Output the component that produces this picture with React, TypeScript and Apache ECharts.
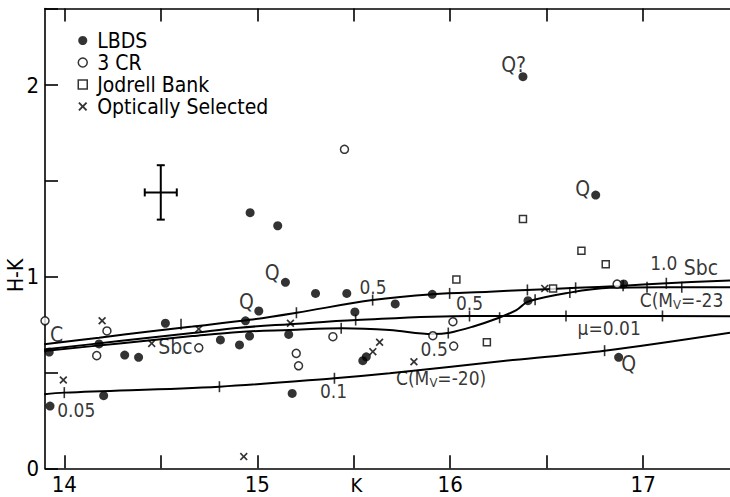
import React, { useEffect, useRef } from "react";
import * as echarts from "echarts";

// ---------- axis ticks ----------
const xTickValues = [14, 14.5, 15, 15.5, 16, 16.5, 17];
const xLabelValues = [14, 15, 16, 17];

// ---------- data points [K, H-K] ----------
const lbds: [number, number][] = [
  [13.922, 0.607], [13.926, 0.325], [14.204, 0.379], [14.18, 0.649], [14.313, 0.591],
  [14.385, 0.579], [14.524, 0.757], [14.809, 0.67], [14.908, 0.644], [14.939, 0.77],
  [14.96, 0.69], [14.963, 1.334], [15.106, 1.266], [15.146, 0.971], [15.008, 0.821],
  [15.163, 0.699], [15.181, 0.391], [15.302, 0.913], [15.464, 0.913], [15.506, 0.816],
  [15.547, 0.562], [15.565, 0.582], [15.715, 0.858], [15.907, 0.908], [16.377, 2.044],
  [16.403, 0.875], [16.754, 1.426], [16.873, 0.579], [16.899, 0.962],
];
const threeCR: [number, number][] = [
  [13.9, 0.77], [14.168, 0.588], [14.221, 0.717], [14.697, 0.629], [15.202, 0.6],
  [15.214, 0.535], [15.392, 0.687], [15.452, 1.665], [15.91, 0.692], [16.014, 0.765],
  [16.018, 0.638], [16.865, 0.962],
];
const jodrellBank: [number, number][] = [
  [16.032, 0.986], [16.19, 0.658], [16.377, 1.301], [16.533, 0.939], [16.68, 1.136], [16.806, 1.065],
];
const opticallySelected: [number, number][] = [
  [14.196, 0.77], [13.995, 0.461], [14.453, 0.652], [14.697, 0.727], [15.172, 0.757],
  [15.599, 0.609], [15.634, 0.658], [15.812, 0.556], [16.49, 0.939], [14.93, 0.061],
];

// ---------- model curves [K, H-K] ----------
const sbcCurve: [number, number][] = [
  [13.896, 0.647], [14.18, 0.682], [14.44, 0.714], [14.664, 0.74], [14.96, 0.775],
  [15.203, 0.812], [15.598, 0.878], [15.909, 0.909], [16.204, 0.922], [16.396, 0.931],
  [16.656, 0.942], [16.878, 0.952], [17.122, 0.966], [17.45, 0.98],
];
const mu001Curve: [number, number][] = [
  [13.896, 0.62], [14.285, 0.664], [14.664, 0.706], [14.908, 0.734], [15.167, 0.752],
  [15.515, 0.774], [16.1, 0.795], [16.775, 0.795], [17.45, 0.793],
];
const cMv23Curve: [number, number][] = [
  [13.896, 0.612], [14.285, 0.652], [14.664, 0.69], [14.908, 0.712], [15.167, 0.722],
  [15.442, 0.731], [15.686, 0.722], [15.909, 0.701], [15.997, 0.708], [16.116, 0.739],
  [16.246, 0.783], [16.343, 0.826], [16.403, 0.87], [16.619, 0.917], [16.827, 0.942],
  [17.1, 0.945], [17.45, 0.945],
];
const cMv20Curve: [number, number][] = [
  [13.896, 0.386], [14.0, 0.395], [14.804, 0.426], [15.4, 0.47], [15.686, 0.496],
  [16.324, 0.565], [16.8, 0.614], [17.45, 0.708],
];

// ---------- redshift tick marks on curves ----------
const sbcTicks: [number, number][] = [
  [14.605, 0.752], [15.203, 0.812], [15.598, 0.878], [15.997, 0.913], [16.4, 0.931],
  [16.65, 0.942], [16.896, 0.953], [17.12, 0.966],
];
const mu001Ticks: [number, number][] = [[15.51, 0.774], [16.1, 0.795], [16.6, 0.795], [17.1, 0.795]];
const cMv23Ticks: [number, number][] = [
  [15.435, 0.731], [15.99, 0.706], [16.256, 0.786], [16.44, 0.88], [16.62, 0.917], [17.02, 0.945], [17.2, 0.945],
];
const cMv20Ticks: [number, number][] = [[14.0, 0.395], [14.804, 0.426], [15.4, 0.47], [16.8, 0.614]];

// ---------- typical error bar [K, H-K, dK, dH-K] ----------
const errorBar: [number, number, number, number][] = [[14.5, 1.44, 0.083, 0.142]];

// ---------- annotations ----------
const annotationTexts = [
  "C", "Sbc", "0.05", "Q", "Q", "0.5", "0.5", "0.5", "0.1",
  "{a|C(M}{s|V}{a|=-20)}", "μ=0.01", "Q", "{a|C(M}{s|V}{a|=-23}", "1.0", "Sbc", "Q?", "Q",
];
const annotationK = [
  13.96, 14.576, 14.062, 14.944, 15.077, 15.6, 16.1, 15.917, 15.395,
  15.953, 16.824, 16.925, 16.982, 17.107, 17.299, 16.329, 16.687,
];
const annotationHK = [
  0.695, 0.633, 0.304, 0.868, 1.018, 0.948, 0.863, 0.625, 0.401,
  0.471, 0.73, 0.542, 0.879, 1.069, 1.043, 2.105, 1.46,
];
const annotationLeftAligned = [12];

const FONT = "'Liberation Sans Narrow', 'DejaVu Sans Condensed', 'Liberation Sans', Arial, sans-serif";
const CROSS =
  "path://M0,1.5 L1.5,0 L5,3.5 L8.5,0 L10,1.5 L6.5,5 L10,8.5 L8.5,10 L5,6.5 L1.5,10 L0,8.5 L3.5,5 Z";

function curveSeries(name: string, data: [number, number][]) {
  return {
    type: "line",
    id: name,
    data,
    smooth: 0.35,
    symbol: "none",
    silent: true,
    lineStyle: { color: "#000", width: 2 },
    z: 2,
  };
}
function tickSeries(name: string, data: [number, number][]) {
  return {
    type: "scatter",
    id: name,
    data,
    symbol: "rect",
    symbolSize: [1.6, 11],
    silent: true,
    itemStyle: { color: "#000" },
    z: 3,
  };
}

export default function App() {
  const ref = useRef<HTMLDivElement>(null);
  useEffect(() => {
    if (!ref.current) return;
    const chart = echarts.init(ref.current, undefined, { renderer: "svg" });
    const axisCommon = {
      type: "value",
      min: 13.9,
      max: 17.45,
      splitLine: { show: false },
      axisLine: { show: true, onZero: false, lineStyle: { color: "#000", width: 1.6 } },
      axisTick: { show: true, inside: true, length: 13, customValues: xTickValues, lineStyle: { color: "#000", width: 1.6 } },
    };
    const annData = annotationTexts.map((t, i) => {
      const left = annotationLeftAligned.includes(i);
      return {
        value: [annotationK[i], annotationHK[i]],
        label: {
          formatter: t,
          position: left ? "right" : "inside",
          distance: 0,
          fontSize: t.startsWith("Q") || t === "C" || t === "Sbc" ? 21 : 19,
        },
      };
    });
    chart.setOption({
      animation: false,
      backgroundColor: "#fff",
      textStyle: { fontFamily: FONT, color: "#000" },
      grid: { left: 45, right: 0, top: 8.5, bottom: 28.7, containLabel: false, outerBoundsMode: "none" },
      legend: {
        orient: "vertical",
        left: 77.5,
        top: 30,
        padding: 0,
        itemWidth: 9,
        itemHeight: 9,
        itemGap: 1,
        selectedMode: false,
        textStyle: { fontFamily: FONT, fontSize: 21, color: "#000", lineHeight: 21, padding: [0, 0, 0, 5] },
        data: [
          { name: "LBDS", icon: "circle", itemStyle: { color: "#000" } },
          { name: "3 CR", icon: "circle", itemStyle: { color: "#fff", borderColor: "#000", borderWidth: 1.5 } },
          { name: "Jodrell Bank", icon: "rect", itemStyle: { color: "#fff", borderColor: "#000", borderWidth: 1.5 } },
          { name: "Optically Selected", icon: CROSS, itemStyle: { color: "#000" } },
        ],
      },
      xAxis: [
        {
          ...axisCommon,
          position: "bottom",
          name: "K",
          nameLocation: "middle",
          nameGap: 7,
          nameMoveOverlap: false,
          nameTextStyle: { fontFamily: FONT, fontSize: 20, lineHeight: 20, color: "#000", padding: [0, 62, 0, 0] },
          axisLabel: { show: true, customValues: xLabelValues, margin: 5, fontFamily: FONT, fontSize: 22, color: "#000" },
        },
        {
          ...axisCommon,
          position: "top",
          axisLabel: { show: false },
        },
      ],
      yAxis: {
        type: "value",
        min: 0,
        max: 2.4,
        interval: 0.5,
        name: "H-K",
        nameLocation: "middle",
        nameRotate: 90,
        nameGap: 19,
        nameMoveOverlap: false,
        nameTextStyle: { fontFamily: FONT, fontSize: 21, color: "#000", padding: [0, 74, 0, 0] },
        splitLine: { show: false },
        axisLine: { show: true, lineStyle: { color: "#000", width: 1.6 } },
        axisTick: { show: true, inside: true, length: 13, lineStyle: { color: "#000", width: 1.6 } },
        axisLabel: {
          margin: 6,
          fontFamily: FONT,
          fontSize: 22,
          color: "#000",
          formatter: (v: number) => (Number.isInteger(v) ? String(v) : ""),
        },
      },
      series: [
        curveSeries("sbc", sbcCurve),
        curveSeries("mu001", mu001Curve),
        curveSeries("cmv23", cMv23Curve),
        curveSeries("cmv20", cMv20Curve),
        tickSeries("sbcTicks", sbcTicks),
        tickSeries("muTicks", mu001Ticks),
        tickSeries("c23Ticks", cMv23Ticks),
        tickSeries("c20Ticks", cMv20Ticks),
        {
          type: "custom",
          id: "errorbar",
          silent: true,
          data: errorBar,
          renderItem: (_p: any, api: any) => {
            const k = api.value(0), hk = api.value(1), dk = api.value(2), dhk = api.value(3);
            const l = api.coord([k - dk, hk]);
            const r = api.coord([k + dk, hk]);
            const t = api.coord([k, hk + dhk]);
            const b = api.coord([k, hk - dhk]);
            const cap = 4;
            const st = { stroke: "#000", lineWidth: 2 };
            return {
              type: "group",
              children: [
                { type: "line", shape: { x1: l[0], y1: l[1], x2: r[0], y2: r[1] }, style: st },
                { type: "line", shape: { x1: t[0], y1: t[1], x2: b[0], y2: b[1] }, style: st },
                { type: "line", shape: { x1: l[0], y1: l[1] - cap, x2: l[0], y2: l[1] + cap }, style: st },
                { type: "line", shape: { x1: r[0], y1: r[1] - cap, x2: r[0], y2: r[1] + cap }, style: st },
                { type: "line", shape: { x1: t[0] - cap, y1: t[1], x2: t[0] + cap, y2: t[1] }, style: st },
                { type: "line", shape: { x1: b[0] - cap, y1: b[1], x2: b[0] + cap, y2: b[1] }, style: st },
              ],
            };
          },
        },
        {
          type: "scatter",
          name: "LBDS",
          data: lbds,
          symbol: "circle",
          symbolSize: 9,
          itemStyle: { color: "#000" },
          z: 5,
        },
        {
          type: "scatter",
          name: "3 CR",
          data: threeCR,
          symbol: "circle",
          symbolSize: 8,
          itemStyle: { color: "#fff", borderColor: "#000", borderWidth: 1.5 },
          z: 5,
        },
        {
          type: "scatter",
          name: "Jodrell Bank",
          data: jodrellBank,
          symbol: "rect",
          symbolSize: 7,
          itemStyle: { color: "#fff", borderColor: "#000", borderWidth: 1.5 },
          z: 5,
        },
        {
          type: "scatter",
          name: "Optically Selected",
          data: opticallySelected,
          symbol: CROSS,
          symbolSize: 8,
          itemStyle: { color: "#000" },
          z: 5,
        },
        {
          type: "scatter",
          id: "annotations",
          data: annData,
          symbolSize: 0,
          silent: true,
          z: 6,
          label: {
            show: true,
            color: "#000",
            fontFamily: FONT,
            rich: {
              a: { fontFamily: FONT, fontSize: 19, color: "#000" },
              s: { fontFamily: FONT, fontSize: 13, color: "#000", padding: [9, 0, 0, 0] },
            },
          },
        },
      ],
    });
    return () => chart.dispose();
  }, []);
  return <div ref={ref} style={{ position: "fixed", left: 0, top: 0, width: 730, height: 497, background: "#fff" }} />;
}
